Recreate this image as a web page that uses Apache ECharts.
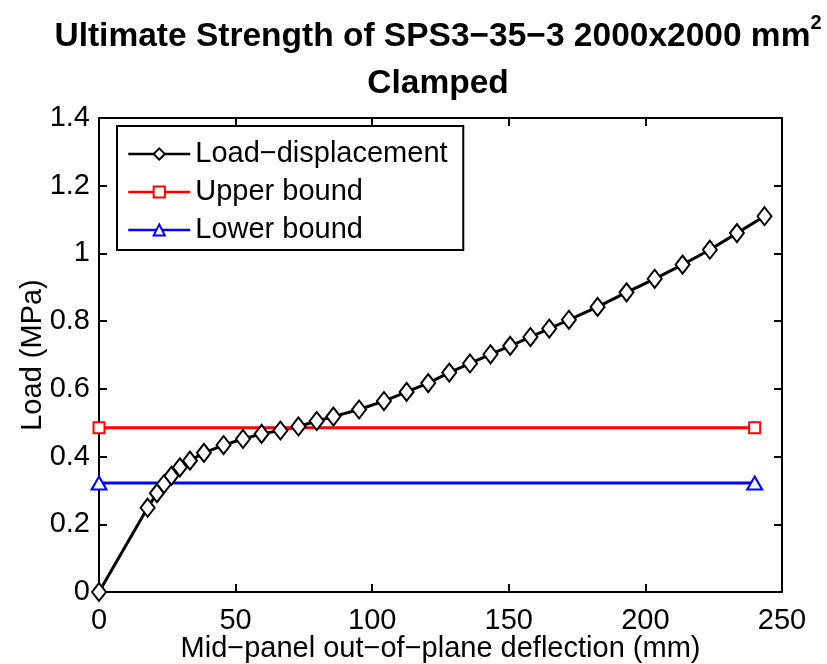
<!DOCTYPE html>
<html>
<head>
<meta charset="utf-8">
<script src="https://cdn.jsdelivr.net/npm/echarts@6/dist/echarts.min.js"></script>
<style>
  html, body { margin: 0; padding: 0; background: #fff; }
  #chart { width: 827px; height: 664px; }
</style>
</head>
<body>
<div id="chart"></div>
<script>
// values
const deflection = [0, 17.8, 21.2, 23.8, 26.5, 29.6, 33.3, 38.4, 45.6, 52.7, 59.5, 66.4, 73.0, 79.7, 85.8,
  95.2, 104.3, 112.6, 120.5, 128.2, 135.8, 143.3, 150.5, 157.9, 164.8, 172.0, 182.5, 193.1, 203.4,
  213.6, 223.6, 233.5, 243.6]
const load = [0, 0.249, 0.292, 0.319, 0.343, 0.368, 0.388, 0.411, 0.434, 0.452, 0.467, 0.477, 0.489, 0.505, 0.518,
  0.539, 0.564, 0.591, 0.617, 0.648, 0.675, 0.702, 0.727, 0.753, 0.778, 0.804, 0.842, 0.885, 0.925,
  0.967, 1.011, 1.060, 1.110]
const boundX = [0, 240]
const upperBound = [0.485, 0.485]
const lowerBound = [0.322, 0.322]

const font = "'Liberation Sans', Arial, Helvetica, sans-serif"

const pairs = (xs, ys) => xs.map((x, i) => [x, ys[i]])

const chart = echarts.init(document.getElementById('chart'))

const axisCommon = {
  axisLine: { show: true, onZero: false, lineStyle: { color: '#000', width: 2 } },
  axisTick: { show: true, inside: true, length: 8, lineStyle: { color: '#000', width: 2 } },
  splitLine: { show: false }
}

const option = {
  backgroundColor: '#fff',
  animation: false,
  title: {
    left: 438,
    top: 13,
    padding: 0,
    textAlign: 'center',
    text: '{a|Ultimate Strength of SPS3\u221235\u22123 2000x2000 mm}{sup|2}\n{a|Clamped}',
    textStyle: {
      fontFamily: font,
      rich: {
        a: { fontFamily: font, fontSize: 33.5, fontWeight: 'bold', color: '#000', lineHeight: 47 },
        sup: { fontFamily: font, fontSize: 20, fontWeight: 'bold', color: '#000', lineHeight: 22, verticalAlign: 'top' }
      }
    }
  },
  grid: { left: 99, right: 45, top: 118, bottom: 72, show: false, outerBoundsMode: 'none', containLabel: false },
  legend: {
    orient: 'vertical',
    left: 117,
    top: 126,
    padding: [13, 8, 5, 10],
    itemWidth: 62,
    itemHeight: 14,
    itemGap: 8,
    borderColor: '#000',
    borderWidth: 2,
    backgroundColor: '#fff',
    lineStyle: { width: 2.5 },
    itemStyle: { borderWidth: 2.5 },
    textStyle: { fontFamily: font, fontSize: 29, color: '#000', lineHeight: 30, width: 260 },
    data: ['Load\u2212displacement', 'Upper bound', 'Lower bound']
  },
  xAxis: [
    Object.assign({
      type: 'value', position: 'bottom', min: 0, max: 250, interval: 50,
      name: 'Mid\u2212panel out\u2212of\u2212plane deflection (mm)',
      nameLocation: 'middle', nameGap: 42, nameMoveOverlap: false,
      nameTextStyle: { fontFamily: font, fontSize: 29, color: '#000' },
      axisLabel: { fontFamily: font, fontSize: 29, color: '#000', margin: 14 }
    }, axisCommon),
    Object.assign({
      type: 'value', position: 'top', min: 0, max: 250, interval: 50,
      axisLabel: { show: false }
    }, axisCommon)
  ],
  yAxis: [
    Object.assign({
      type: 'value', position: 'left', min: 0, max: 1.4, interval: 0.2,
      name: 'Load (MPa)',
      nameLocation: 'middle', nameGap: 52, nameMoveOverlap: false,
      nameTextStyle: { fontFamily: font, fontSize: 29, color: '#000' },
      axisLabel: { fontFamily: font, fontSize: 29, color: '#000', margin: 9 }
    }, axisCommon),
    Object.assign({
      type: 'value', position: 'right', min: 0, max: 1.4, interval: 0.2,
      axisLabel: { show: false }
    }, axisCommon)
  ],
  series: [
    {
      name: 'Load\u2212displacement',
      type: 'line',
      data: pairs(deflection, load),
      symbol: 'emptyDiamond',
      symbolSize: [14, 18],
      lineStyle: { color: '#000', width: 3 },
      itemStyle: { color: '#000', borderWidth: 3 },
      z: 3
    },
    {
      name: 'Upper bound',
      type: 'line',
      data: pairs(boundX, upperBound),
      symbol: 'emptyRect',
      symbolSize: 11,
      lineStyle: { color: '#ff0000', width: 3 },
      itemStyle: { color: '#ff0000', borderWidth: 2.5 }
    },
    {
      name: 'Lower bound',
      type: 'line',
      data: pairs(boundX, lowerBound),
      symbol: 'emptyTriangle',
      symbolSize: [15, 13],
      lineStyle: { color: '#0000ff', width: 3 },
      itemStyle: { color: '#0000ff', borderWidth: 2.5 }
    }
  ]
}

chart.setOption(option)

window.addEventListener('resize', () => {
  chart.resize()
})
</script>
</body>
</html>
